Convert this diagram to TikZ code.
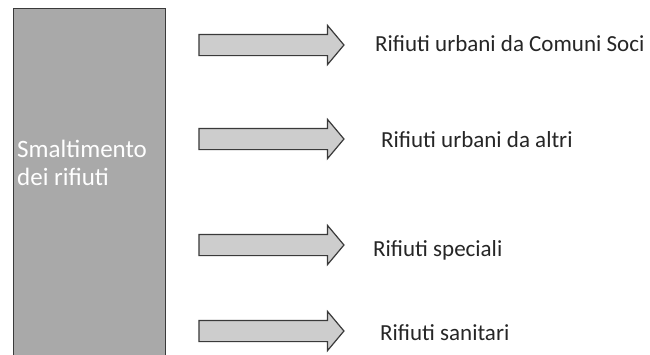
\documentclass[tikz,border=0pt]{standalone}
\usepackage{fontspec}
\setmainfont{Carlito}
\usetikzlibrary{shapes.arrows}
\definecolor{boxgray}{HTML}{A9A9A9}
\definecolor{arrgray}{HTML}{CDCDCD}
\definecolor{edgegray}{HTML}{3A3A3A}
\tikzset{
  mainbox/.style={draw=edgegray, line width=0.8pt, fill=boxgray},
  blockarrow/.style={single arrow, draw=edgegray, line width=1.2pt, fill=arrgray,
    minimum height=145pt, single arrow head extend=9pt,
    single arrow tip angle=100, inner xsep=0pt, inner ysep=10pt, outer sep=0pt},
  lbl/.style={anchor=west, inner sep=0pt, font=\fontsize{23}{27}\selectfont, text=black!85},
  boxtext/.style={anchor=west, inner sep=0pt, align=left, text=white,
    font=\fontsize{25}{28}\selectfont}
}
\begin{document}
\begin{tikzpicture}[x=1pt,y=-1pt]
\useasboundingbox (0,0) rectangle (650,354);
\fill[white] (0,0) rectangle (650,354);
\draw[mainbox] (13,8) rectangle (165,360);
\node[boxtext] (title) at (17,163) {Smaltimento\\dei rifiuti};
\node[blockarrow] (a1) at (267,45) {};
\node[blockarrow] (a2) at (267,139) {};
\node[blockarrow] (a3) at (267,245) {};
\node[blockarrow] (a4) at (267,331) {};
\node[lbl] (t1) at (375,44) {Rifiuti urbani da Comuni Soci};
\node[lbl] (t2) at (381,140) {Rifiuti urbani da altri};
\node[lbl] (t3) at (373,250) {Rifiuti speciali};
\node[lbl] (t4) at (380,333) {Rifiuti sanitari};
\end{tikzpicture}
\end{document}
